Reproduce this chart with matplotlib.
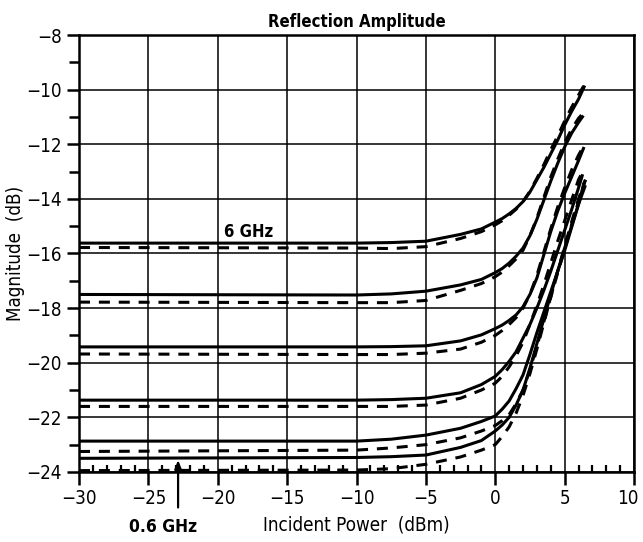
import matplotlib
matplotlib.use("Agg")
import matplotlib.pyplot as plt
import matplotlib.transforms as mtransforms
from matplotlib.ticker import MultipleLocator

plt.rcParams["font.family"] = ["DejaVu Sans"]
plt.rcParams["font.stretch"] = "condensed"

# ── Data ──────────────────────────────────────────────────────────────────────
x_pts = [-30, -10, -7.5, -5, -2.5, -1, 0, 0.5, 1, 1.5, 2, 2.5, 3, 3.5, 4, 4.5, 5, 5.5, 6]

# measured (solid) curves, 6 GHz at top down to 0.6 GHz at bottom
s1 = [-15.62, -15.62, -15.60, -15.55, -15.30, -15.10, -14.85, -14.72, -14.55, -14.35, -14.10, -13.75, -13.30, -12.85, -12.35, -11.85, -11.30, -10.80, -10.35]
s2 = [-17.50, -17.52, -17.48, -17.38, -17.15, -16.95, -16.70, -16.55, -16.35, -16.10, -15.80, -15.35, -14.75, -14.05, -13.35, -12.70, -12.10, -11.60, -11.20]
s3 = [-19.42, -19.42, -19.41, -19.38, -19.20, -18.98, -18.75, -18.62, -18.45, -18.25, -17.95, -17.50, -16.90, -16.05, -15.20, -14.45, -13.80, -13.20, -12.60]
s4 = [-21.37, -21.37, -21.35, -21.30, -21.10, -20.80, -20.50, -20.25, -19.95, -19.60, -19.10, -18.60, -18.00, -17.35, -16.65, -15.90, -15.15, -14.40, -13.60]
s5 = [-22.87, -22.87, -22.80, -22.65, -22.40, -22.15, -21.95, -21.70, -21.40, -20.95, -20.45, -19.70, -18.90, -18.15, -17.40, -16.65, -15.90, -15.05, -14.20]
s6 = [-23.50, -23.47, -23.44, -23.38, -23.10, -22.85, -22.50, -22.28, -22.00, -21.55, -21.00, -20.20, -19.30, -18.40, -17.50, -16.65, -15.80, -15.00, -14.20]

# modelled (dashed) curves
d1 = [-15.78, -15.80, -15.82, -15.75, -15.45, -15.20, -14.95, -14.80, -14.60, -14.38, -14.10, -13.72, -13.25, -12.75, -12.20, -11.70, -11.15, -10.65, -10.20]
d2 = [-17.78, -17.80, -17.80, -17.72, -17.35, -17.10, -16.85, -16.68, -16.45, -16.20, -15.88, -15.35, -14.70, -13.95, -13.20, -12.55, -11.95, -11.45, -11.05]
d3 = [-19.68, -19.70, -19.70, -19.65, -19.50, -19.25, -19.00, -18.82, -18.60, -18.35, -18.00, -17.50, -16.80, -15.95, -15.10, -14.30, -13.60, -12.95, -12.40]
d4 = [-21.60, -21.60, -21.60, -21.55, -21.30, -21.00, -20.75, -20.50, -20.15, -19.75, -19.25, -18.60, -17.90, -17.15, -16.35, -15.55, -14.80, -14.05, -13.30]
d5 = [-23.25, -23.20, -23.12, -23.00, -22.75, -22.50, -22.30, -22.12, -21.90, -21.50, -21.00, -20.25, -19.40, -18.50, -17.60, -16.70, -15.85, -14.95, -14.10]
d6 = [-23.95, -23.93, -23.88, -23.72, -23.45, -23.20, -23.00, -22.70, -22.35, -21.85, -21.20, -20.40, -19.50, -18.55, -17.60, -16.65, -15.75, -14.85, -14.00]

# curve end points (x, y)
s_end = [(6.45, -9.85), (6.35, -10.95), (6.4, -12.10), (6.3, -13.10), (6.4, -13.40), (6.5, -13.50)]
d_end = [(6.5, -9.75), (6.45, -10.80), (6.5, -11.95), (6.45, -12.85), (6.5, -13.30), (6.5, -13.30)]

solid = [s1, s2, s3, s4, s5, s6]
dashed = [d1, d2, d3, d4, d5, d6]

# ── Figure ────────────────────────────────────────────────────────────────────
fig = plt.figure(figsize=(6.43, 5.42), dpi=100)
ax = fig.add_axes([0.1229, 0.1292, 0.8631, 0.8062])

for ys, (xe, ye) in zip(solid, s_end):
    ax.plot(x_pts + [xe], ys + [ye], color="black", lw=2.2, solid_capstyle="butt",
            solid_joinstyle="round", zorder=3)
for ys, (xe, ye) in zip(dashed, d_end):
    ax.plot(x_pts + [xe], ys + [ye], color="black", lw=2.2, dashes=(3.6, 2.9), zorder=3)

ax.set_xlim(-30, 10)
ax.set_ylim(-24, -8)
ax.xaxis.set_major_locator(MultipleLocator(5))
ax.xaxis.set_minor_locator(MultipleLocator(1))
ax.yaxis.set_major_locator(MultipleLocator(2))
ax.yaxis.set_minor_locator(MultipleLocator(1))
ax.grid(which="major", color="black", lw=1.1, zorder=1)

for sp in ax.spines.values():
    sp.set_linewidth(1.8)
ax.tick_params(axis="both", which="major", labelsize=13.5, width=1.8, length=9, direction="out")
ax.tick_params(axis="x", which="minor", width=1.6, length=5, direction="in")
ax.tick_params(axis="y", which="minor", width=1.8, length=7, direction="out")

ax.set_xlabel("Incident Power  (dBm)", fontsize=13.5, labelpad=5)
ax.set_ylabel("Magnitude  (dB)", fontsize=13.5, labelpad=1)
ax.set_title("Reflection Amplitude", fontsize=12, fontweight="bold", pad=6)

ax.text(-17.8, -15.2, "6 GHz", fontsize=12, fontweight="bold", ha="center", va="center")
ax.text(-23.95, -26.0, "0.6 GHz", fontsize=12.5, fontweight="bold", ha="center", va="center",
        clip_on=False)
ax.annotate("", xy=(-22.86, -23.56), xytext=(-22.86, -25.3), annotation_clip=False,
            arrowprops=dict(arrowstyle="-|>,head_length=0.5,head_width=0.2",
                            color="black", lw=1.6, shrinkA=0, shrinkB=0))

# the "10" label sits at the figure edge: nudge it left a little
fig.canvas.draw()
locs = list(ax.xaxis.get_majorticklocs())
ticks = ax.xaxis.get_major_ticks(len(locs))
for loc, tick in zip(locs, ticks):
    if abs(loc - 10) < 1e-9:
        lab = tick.label1
        lab.set_transform(lab.get_transform() +
                          mtransforms.ScaledTranslation(-6 / 100, 0, fig.dpi_scale_trans))

fig.savefig("out.png", dpi=100)
